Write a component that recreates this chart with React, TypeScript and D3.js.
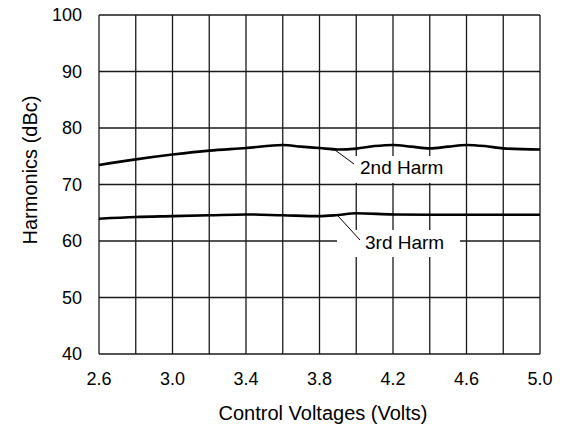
import { useEffect, useRef } from "react";
import * as d3 from "d3";

// Chart data
const volts2nd = [2.6, 2.8, 3.0, 3.2, 3.4, 3.6, 3.7, 3.8, 3.9, 4.0, 4.1, 4.2, 4.3, 4.4, 4.5, 4.6, 4.7, 4.8, 5.0];
const harm2nd = [73.45, 74.45, 75.3, 76.0, 76.45, 77.0, 76.7, 76.45, 76.2, 76.35, 76.8, 77.0, 76.7, 76.4, 76.7, 77.0, 76.8, 76.4, 76.2];
const volts3rd = [2.6, 2.8, 3.0, 3.2, 3.4, 3.6, 3.8, 3.9, 4.0, 4.2, 4.4, 4.6, 4.8, 5.0];
const harm3rd = [63.95, 64.25, 64.4, 64.55, 64.7, 64.55, 64.4, 64.6, 64.9, 64.7, 64.65, 64.65, 64.65, 64.65];
const xTickLabels = [2.6, 3.0, 3.4, 3.8, 4.2, 4.6, 5.0];
const yTickLabels = [40, 50, 60, 70, 80, 90, 100];

const W = 564;
const H = 432;
const FONT = "'Liberation Sans', Arial, Helvetica, sans-serif";

export default function App(): JSX.Element {
    const svgRef = useRef<SVGSVGElement>(null);

    useEffect(() => {
        const svg = d3.select(svgRef.current);
        svg.selectAll("*").remove();

        const x = d3.scaleLinear().domain([2.6, 5.0]).range([99, 540]);
        const y = d3.scaleLinear().domain([40, 100]).range([354, 15]);

        // grid: vertical every 0.2 V, horizontal every 10 dBc
        const xGrid = d3.range(0, 13).map(i => 2.6 + i * 0.2);
        const grid = svg.append("g").attr("stroke", "#1a1a1a").attr("stroke-width", 1.3);
        grid.selectAll("line.v").data(xGrid).enter().append("line")
            .attr("x1", d => x(d)).attr("x2", d => x(d))
            .attr("y1", y(40)).attr("y2", y(100));
        grid.selectAll("line.h").data(yTickLabels).enter().append("line")
            .attr("x1", x(2.6)).attr("x2", x(5.0))
            .attr("y1", d => y(d)).attr("y2", d => y(d));

        // tick labels
        svg.append("g").selectAll("text").data(xTickLabels).enter().append("text")
            .attr("x", d => x(d)).attr("y", 385)
            .attr("text-anchor", "middle")
            .attr("font-family", FONT).attr("font-size", 18)
            .text(d => d.toFixed(1));
        svg.append("g").selectAll("text").data(yTickLabels).enter().append("text")
            .attr("x", 82).attr("y", d => y(d)).attr("dy", "0.36em")
            .attr("text-anchor", "end")
            .attr("font-family", FONT).attr("font-size", 18)
            .text(d => d);

        // axis titles
        svg.append("text")
            .attr("x", 323).attr("y", 420)
            .attr("text-anchor", "middle")
            .attr("font-family", FONT).attr("font-size", 20)
            .text("Control Voltages (Volts)");
        svg.append("text")
            .attr("transform", "translate(36.5,170) rotate(-90)")
            .attr("text-anchor", "middle")
            .attr("font-family", FONT).attr("font-size", 20)
            .text("Harmonics (dBc)");

        // curves
        const line = d3.line<[number, number]>()
            .x(d => x(d[0]))
            .y(d => y(d[1]))
            .curve(d3.curveMonotoneX);
        const series = [
            volts2nd.map((v, i) => [v, harm2nd[i]] as [number, number]),
            volts3rd.map((v, i) => [v, harm3rd[i]] as [number, number]),
        ];
        svg.append("g").selectAll("path").data(series).enter().append("path")
            .attr("d", d => line(d))
            .attr("fill", "none")
            .attr("stroke", "#000")
            .attr("stroke-width", 2.6);

        // labels with white boxes and leader lines
        const labels = [
            { text: "2nd Harm", box: [351, 156, 98, 27], lead: [335, 150, 354, 164], tx: 360, ty: 174 },
            { text: "3rd Harm", box: [337, 230, 123, 27], lead: [338, 216, 360, 240], tx: 365, ty: 249 },
        ];
        labels.forEach(l => {
            svg.append("rect")
                .attr("x", l.box[0]).attr("y", l.box[1])
                .attr("width", l.box[2]).attr("height", l.box[3])
                .attr("fill", "#fff");
            svg.append("line")
                .attr("x1", l.lead[0]).attr("y1", l.lead[1])
                .attr("x2", l.lead[2]).attr("y2", l.lead[3])
                .attr("stroke", "#000").attr("stroke-width", 1);
            svg.append("text")
                .attr("x", l.tx).attr("y", l.ty)
                .attr("font-family", FONT).attr("font-size", 19)
                .text(l.text);
        });
    }, []);

    return (
        <svg
            ref={svgRef}
            width={W}
            height={H}
            style={{ position: "absolute", left: 0, top: 0, background: "#fff" }}
        />
    );
}
